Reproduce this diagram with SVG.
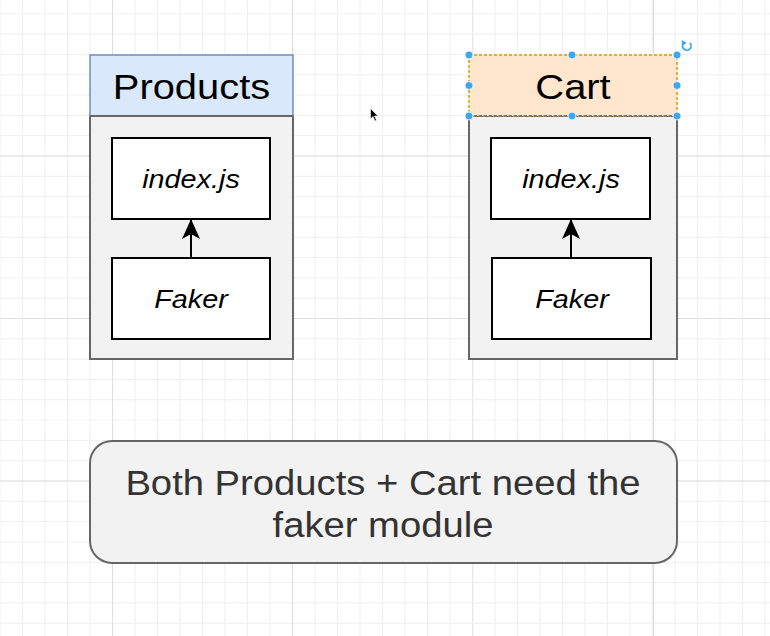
<svg xmlns="http://www.w3.org/2000/svg" width="770" height="636" viewBox="0 0 770 636">
<style>
.lbl{font-family:"Liberation Sans",Arial,sans-serif;fill:#000;text-anchor:middle}
.title{font-size:36px}
.item{font-size:26px;font-style:italic}
.note{font-size:34.5px;fill:#333}
.inner{fill:#fff;stroke:#000;stroke-width:2}
.body{fill:#f2f2f2;stroke:#666;stroke-width:2}
.conn{stroke:#000;stroke-width:2;fill:none}
.handle{fill:#3fa6ec;stroke:#fff;stroke-width:0.8}
</style>
<defs>
<pattern id="minor" x="-0.5" y="-7" width="22.5" height="20.3125" patternUnits="userSpaceOnUse">
<path d="M0 0.5H22.5M0.5 0V20.3125" stroke="#efefef" stroke-width="1" fill="none"/>
</pattern>
<marker id="arr" viewBox="0 0 20 20" refX="19" refY="10" markerWidth="10" markerHeight="10" markerUnits="strokeWidth" orient="auto">
<path d="M0 1 L20 10 L0 19 L5 10 Z" fill="#000"/>
</marker>
</defs>
<rect width="770" height="636" fill="#fff"/>
<rect width="770" height="636" fill="url(#minor)"/>
<g stroke="#dedede" stroke-width="1">
<path d="M112.5 0V636M292.5 0V636M653.5 0V636"/>
<path d="M0 156H770M0 318.5H770M0 481H770"/>
</g>
<path d="M473 0V636" stroke="#e8e8e8" stroke-width="1"/>

<g id="products">
<rect class="body" x="90" y="116" width="203" height="243"/>
<rect x="90" y="55" width="203" height="61" fill="#dae8fc" stroke="#6c8ebf" stroke-width="1.5"/>
<line x1="90" y1="116" x2="293" y2="116" stroke="#666" stroke-width="2"/>
<text class="lbl title" transform="translate(191.5 99) scale(1.108 1)">Products</text>
</g>
<g id="products-index">
<rect class="inner" x="112" y="138" width="158" height="81"/>
<text class="lbl item" transform="translate(191 188) scale(1.108 1)">index.js</text>
</g>
<g id="products-faker">
<rect class="inner" x="112" y="258" width="158" height="81"/>
<text class="lbl item" transform="translate(191 308) scale(1.108 1)">Faker</text>
</g>

<g id="cart">
<rect class="body" x="469" y="116" width="208" height="243"/>
<rect x="469" y="55" width="208" height="61" fill="#ffe6cc" stroke="#d79b00" stroke-width="1.5" stroke-dasharray="3 2"/>
<line x1="469" y1="116" x2="677" y2="116" stroke="#777" stroke-width="2" stroke-dasharray="3 2"/>
<text class="lbl title" transform="translate(573 99) scale(1.108 1)">Cart</text>
</g>
<g id="cart-index">
<rect class="inner" x="491" y="138" width="159" height="81"/>
<text class="lbl item" transform="translate(571 188) scale(1.108 1)">index.js</text>
</g>
<g id="cart-faker">
<rect class="inner" x="492" y="258" width="159" height="81"/>
<text class="lbl item" transform="translate(572 308) scale(1.108 1)">Faker</text>
</g>

<g id="connectors">
<line class="conn" x1="191" y1="258" x2="191" y2="220" marker-end="url(#arr)"/>
<line class="conn" x1="571" y1="258" x2="571" y2="220" marker-end="url(#arr)"/>
</g>

<g id="note">
<rect x="90" y="441" width="587" height="122" rx="22" ry="22" fill="#f2f2f2" stroke="#666" stroke-width="2"/>
<text class="lbl note" transform="translate(383 495) scale(1.108 1)">Both Products + Cart need the</text>
<text class="lbl note" transform="translate(383 536.5) scale(1.108 1)">faker module</text>
</g>

<g id="selection">
<circle class="handle" cx="469" cy="55" r="4"/>
<circle class="handle" cx="572" cy="55" r="4"/>
<circle class="handle" cx="677" cy="55" r="4"/>
<circle class="handle" cx="469" cy="85.5" r="4"/>
<circle class="handle" cx="677" cy="85.5" r="4"/>
<circle class="handle" cx="469" cy="116" r="4"/>
<circle class="handle" cx="572" cy="116" r="4"/>
<circle class="handle" cx="677" cy="116" r="4"/>
<path d="M689.8 42.8 A4.3 4.3 0 1 1 683.5 43" fill="none" stroke="#3fa6ec" stroke-width="1.8"/>
<path d="M681.5 40 L686.5 42.8 L682.3 46.5 Z" fill="#3fa6ec"/>
</g>

<g id="cursor">
<path d="M370.5 108.5 L370.5 119 L373 116.5 L375 121 L376.5 120.3 L374.6 116 L378 116 Z" fill="#000" stroke="#fff" stroke-width="0.6"/>
</g>
</svg>
